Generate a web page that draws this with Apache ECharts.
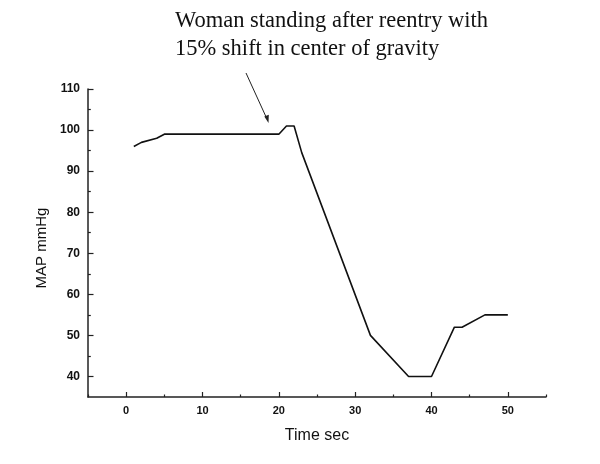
<!DOCTYPE html>
<html>
<head>
<meta charset="utf-8">
<script src="https://cdn.jsdelivr.net/npm/echarts@6/dist/echarts.min.js"></script>
<style>html,body{margin:0;padding:0;background:#fff}#c{width:600px;height:464px}</style>
</head>
<body>
<div id="c"></div>
<script>
// Data
var timeSec = [1, 2, 4, 5, 20, 21, 22, 23, 32, 37, 40, 43, 44, 47, 50];
var mapMmHg = [96, 97, 98, 99, 99, 101, 101, 94.5, 50, 40, 40, 52, 52, 55, 55];
var xMajorTicks = [0, 10, 20, 30, 40, 50];
var xMinorTicks = [-5, 5, 15, 25, 35, 45, 55];
var yMajorTicks = [40, 50, 60, 70, 80, 90, 100, 110];
var yMinorTicks = [45, 55, 65, 75, 85, 95, 105];
var annotationLines = ['Woman standing after reentry with', '15% shift in center of gravity'];

var points = timeSec.map(function (t, i) { return [t, mapMmHg[i]]; });

var chart = echarts.init(document.getElementById('c'), null, {renderer: 'canvas'});
var axisColor = '#222';

function xAx(ticks, len, showLabel, showLine) {
  return {
    type: 'value', min: -5, max: 55, position: 'bottom',
    axisLine: {show: showLine, onZero: false, lineStyle: {color: axisColor, width: 1.5}},
    axisTick: {show: true, inside: true, length: len, customValues: ticks, lineStyle: {color: axisColor, width: 1.2}},
    axisLabel: {show: showLabel, margin: 8, customValues: xMajorTicks,
      fontFamily: 'Liberation Sans', fontWeight: 'bold', fontSize: 11, color: '#111'},
    splitLine: {show: false}
  };
}
function yAx(ticks, len, showLabel, showLine) {
  return {
    type: 'value', min: 35, max: 110, position: 'left',
    axisLine: {show: showLine, onZero: false, lineStyle: {color: axisColor, width: 1.5}},
    axisTick: {show: true, inside: true, length: len, customValues: ticks, lineStyle: {color: axisColor, width: 1.2}},
    axisLabel: {show: showLabel, margin: 8, customValues: yMajorTicks,
      fontFamily: 'Liberation Sans', fontWeight: 'bold', fontSize: 12, color: '#111'},
    splitLine: {show: false}
  };
}

var xMain = xAx(xMajorTicks, 5, true, true);
xMain.name = 'Time sec';
xMain.nameLocation = 'middle';
xMain.nameGap = 31;
xMain.nameTextStyle = {fontFamily: 'Liberation Sans', fontSize: 16, color: '#111'};
var yMain = yAx(yMajorTicks, 5.5, true, true);
yMain.name = 'MAP mmHg';
yMain.nameLocation = 'middle';
yMain.nameGap = 38;
yMain.nameTextStyle = {fontFamily: 'Liberation Sans', fontSize: 15, color: '#111', padding: [0, 10, 0, 0]};

chart.setOption({
  animation: false,
  backgroundColor: '#fff',
  grid: {left: 88, right: 54, top: 89, bottom: 67, containLabel: false},
  xAxis: [xMain, xAx(xMinorTicks, 2.5, false, false)],
  yAxis: [yMain, yAx(yMinorTicks, 2.8, false, false)],
  series: [{
    type: 'line', xAxisIndex: 0, yAxisIndex: 0,
    data: points, showSymbol: false, symbol: 'none',
    lineStyle: {color: '#111', width: 1.6}
  }],
  graphic: [
    {
      type: 'text', left: 175, top: 7,
      style: {
        text: annotationLines.join('\n'),
        font: '22.5px "Liberation Serif"', lineHeight: 28, fill: '#111'
      }
    },
    {
      type: 'line',
      shape: {x1: 246, y1: 73, x2: 267, y2: 119},
      style: {stroke: '#222', lineWidth: 1}
    },
    {
      type: 'polygon',
      shape: {points: [[268.5, 123], [264.3, 116.5], [268.8, 114.8]]},
      style: {fill: '#222'}
    }
  ]
});
</script>
</body>
</html>
